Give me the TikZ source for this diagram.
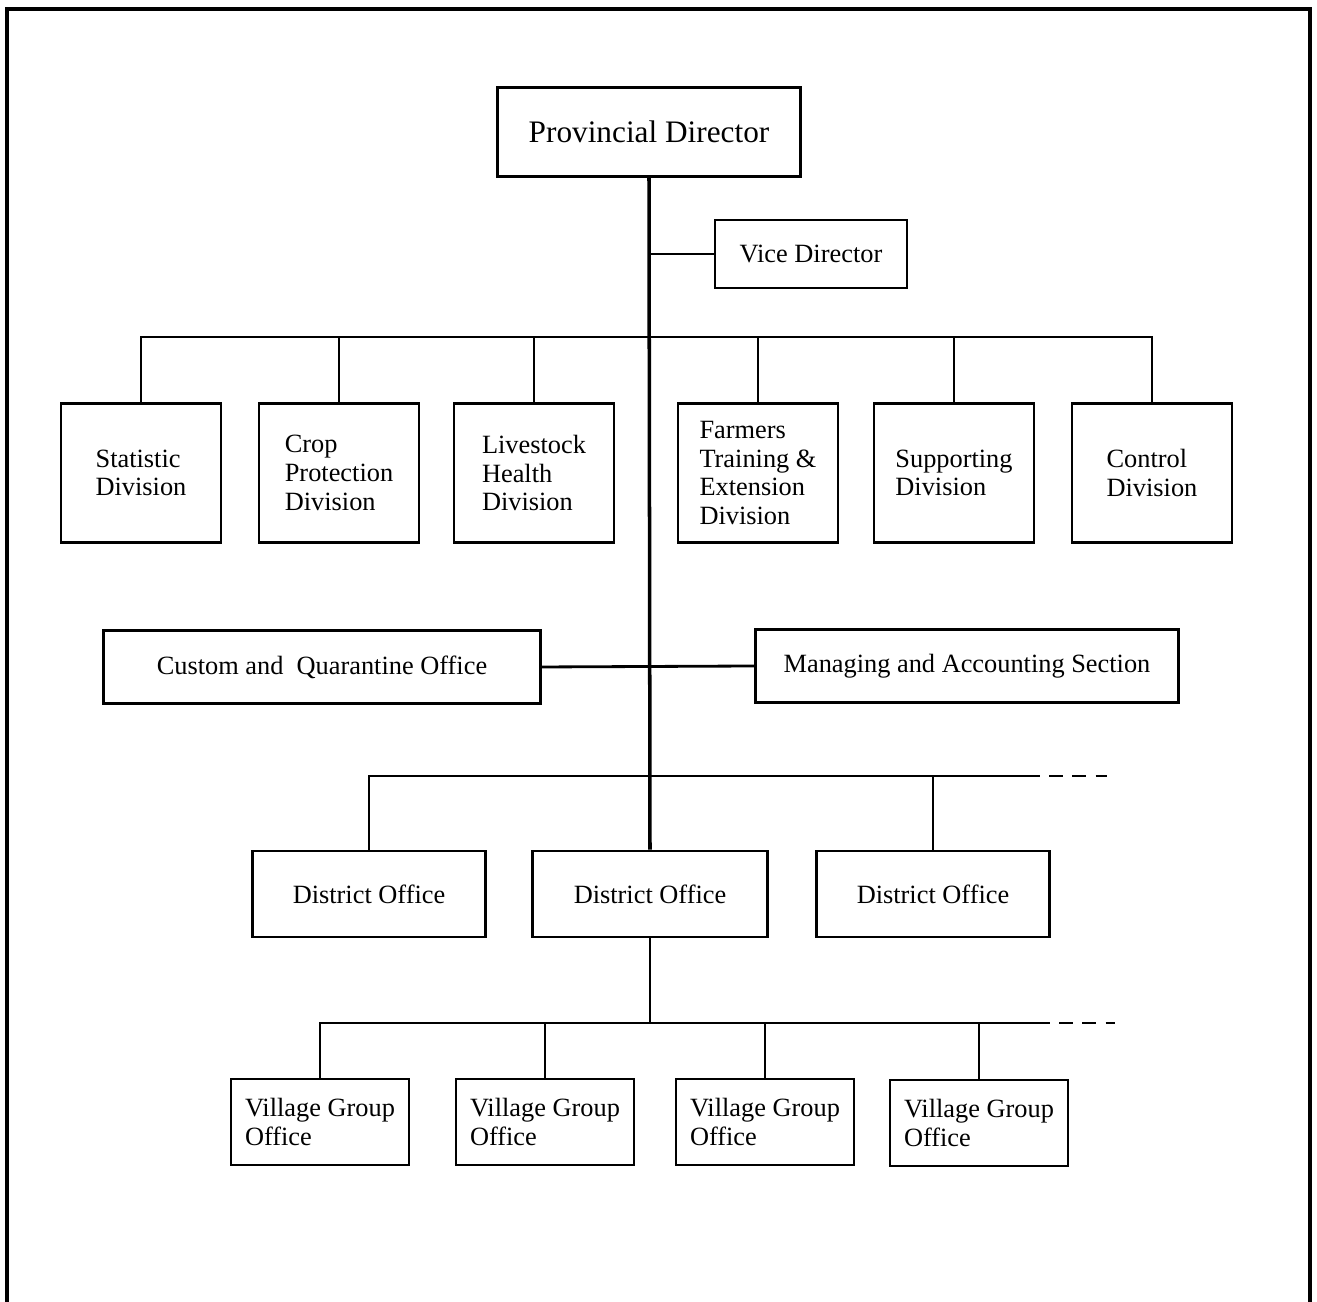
\documentclass[tikz,border=0pt]{standalone}
\usepackage{fontspec}
\setmainfont{Liberation Serif}
\usepackage{tikz}

\tikzset{
  box/.style={draw, line width=0.8pt, inner sep=2pt, font=\fontsize{7.5}{8.2}\selectfont},
  divbox/.style={box, minimum width=16mm, minimum height=13.9mm, align=left},
  vgbox/.style={box, minimum width=17.8mm, minimum height=8.6mm, align=left},
  link/.style={line width=0.8pt},
  more/.style={line width=0.8pt, dash pattern=on 4pt off 2.6pt, dash phase=4pt}
}

\begin{document}
\begin{tikzpicture}[x=0.1mm, y=-0.1mm]
\useasboundingbox (0,0) rectangle (1317,1302);
\draw [line width=1pt] (7,1302) -- (7,9) -- (1310,9) -- (1310,1302);

\node [box, minimum width=30.3mm, minimum height=8.9mm, font=\fontsize{8.9}{10}\selectfont] (pd) at (649,132) {Provincial Director};
\node [box, minimum width=19.2mm, minimum height=6.8mm] (vd) at (811,254) {Vice Director};

\node [divbox] (sd) at (141,473) {Statistic\\Division};
\node [divbox] (cp) at (339,473) {Crop\\Protection\\Division};
\node [divbox] (lh) at (534,473) {Livestock\\Health\\Division};
\node [divbox] (ft) at (758,473) {Farmers\\Training \&\\Extension\\Division};
\node [divbox] (su) at (954,473) {Supporting\\Division};
\node [divbox] (cd) at (1152,473) {Control\\Division};

\node [box, minimum width=43.7mm, minimum height=7.3mm] (cq) at (322,667) {Custom and \ Quarantine Office};
\node [box, minimum width=42.3mm, minimum height=7.3mm] (ma) at (967,666) {Managing and Accounting Section};

\node [box, minimum width=23.3mm, minimum height=8.6mm] (dl) at (369,894) {District Office};
\node [box, minimum width=23.5mm, minimum height=8.6mm] (dm) at (650,894) {District Office};
\node [box, minimum width=23.3mm, minimum height=8.6mm] (dr) at (933,894) {District Office};

\node [vgbox] (v1) at (320,1122) {Village Group\\Office};
\node [vgbox] (v2) at (545,1122) {Village Group\\Office};
\node [vgbox] (v3) at (765,1122) {Village Group\\Office};
\node [vgbox] (v4) at (979,1123) {Village Group\\Office};

\coordinate (b1) at (646,337);
\coordinate (b2) at (646,776);
\coordinate (b2end) at (1107,776);
\coordinate (b3) at (650,1023);
\coordinate (b3end) at (1115,1023);

\draw [link, line width=1pt] (pd.south) -- (dm.north);
\draw [link] (vd.west) -- (vd.west -| pd.south);
\draw [link] (sd.north) -- (sd.north |- b1) -- (cd.north |- b1) -- (cd.north);
\foreach \d in {cp,lh,ft,su}
  \draw [link] (\d.north) -- (\d.north |- b1);
\draw [link] (cq.east) -- (ma.west);

\draw [link] (dl.north) -- (dl.north |- b2) -- (1040,776);
\draw [more] (1040,776) -- (b2end);
\draw [link] (dr.north) -- (dr.north |- b2);

\draw [link] (dm.south) -- (b3);
\draw [link] (v1.north) -- (v1.north |- b3) -- (1050,1023);
\draw [more] (1050,1023) -- (b3end);
\foreach \v in {v2,v3,v4}
  \draw [link] (\v.north) -- (\v.north |- b3);
\end{tikzpicture}
\end{document}
